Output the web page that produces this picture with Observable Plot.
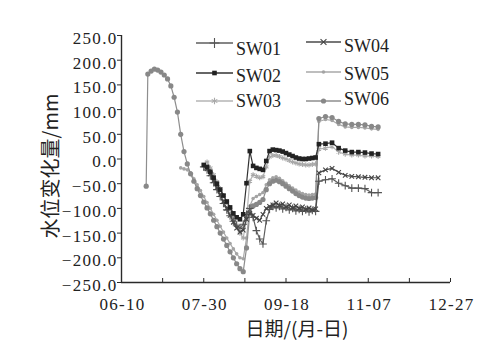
<!DOCTYPE html>
<html><head><meta charset="utf-8">
<script src="https://cdn.jsdelivr.net/npm/d3@7"></script>
<script src="https://cdn.jsdelivr.net/npm/@observablehq/plot@0.6"></script>
<style>
body{margin:0;background:#fff;}
#wrap{position:relative;width:500px;height:357px;overflow:hidden;}
#wrap svg{position:absolute;left:0;top:0;}
</style></head><body><div id="wrap"></div>
<script>
const dates = ["06-25","06-26","06-28","06-30","07-02","07-04","07-06","07-08","07-10","07-12",
"07-14","07-16","07-18","07-20","07-22","07-24","07-26","07-28","07-30","08-01",
"08-03","08-05","08-07","08-09","08-11","08-13","08-15","08-17","08-19","08-21",
"08-23","08-25","08-27","08-29","08-31","09-02","09-04","09-06","09-08","09-10",
"09-12","09-14","09-16","09-18","09-20","09-22","09-24","09-26","09-28","09-30",
"10-02","10-04","10-06","10-08","10-12","10-16","10-20","10-24","10-28","11-01",
"11-05","11-09","11-13"];
const N = null;
const sw01 = [N,N,N,N,N,N,N,N,N,N, N,N,N,N,N,N,N,N,-16,-22,
-34,-48,-62,-76,-90,-103,-115,-126,-135,-140,
-132,-112,-100,-118,-145,-162,-172,-125,-102,-96,
-99,-96,-101,-98,-103,-100,-105,-102,-106,-103,
-107,-104,-106,-45,-42,-40,-49,-54,-59,-59,
-60,-68,-68];
const sw02 = [N,N,N,N,N,N,N,N,N,N, N,N,N,N,N,N,N,N,-12,-16,
-26,-38,-50,-62,-74,-86,-98,-110,-118,-122,
-112,-49,16,-14,-18,-20,-22,-4,16,19,
18,17,15,12,9,6,3,1,0,0,
1,2,3,30,31,33,22,17,14,14,
13,11,10];
const sw03 = [N,N,N,N,N,N,N,N,N,N, N,N,N,N,N,N,N,N,N,-6,
-18,-32,-46,-60,-74,-88,-102,-118,-134,-150,
-160,-120,-45,-32,-35,-38,-36,-16,4,7,
7,5,2,0,-3,-6,-8,-10,-11,-12,
-12,-11,-10,20,22,25,14,10,8,8,
6,6,5];
const sw04 = [N,N,N,N,N,N,N,N,N,N, N,N,N,N,N,N,N,N,N,-20,
-30,-44,-58,-72,-86,-100,-114,-128,-140,-148,
-144,-122,-110,-114,-120,-124,-112,-100,-96,-93,
-89,-94,-91,-97,-93,-99,-95,-100,-97,-102,
-99,-103,-101,-28,-22,-19,-27,-33,-35,-36,
-37,-38,-38];
const sw05 = [N,N,N,N,N,N,N,N,N,N, N,-18,-20,-22,-28,-40,-52,-64,-76,-88,
-100,-112,-124,-136,-148,-160,-171,-182,-192,-200,
-202,-160,-95,-80,-76,-72,-68,-52,-42,-38,
-36,-39,-44,-49,-54,-59,-63,-67,-70,-72,
-73,-72,-71,76,80,78,70,65,64,64,
63,61,60];
const sw06 = [-55,172,178,182,180,176,170,162,148,125,
95,50,15,-10,-30,-45,-60,-74,-87,-99,
-111,-124,-137,-150,-162,-175,-188,-200,-212,-222,
-228,-180,-110,-95,-92,-88,-82,-62,-50,-45,
-43,-46,-50,-55,-60,-65,-70,-74,-77,-79,
-80,-79,-78,82,86,84,76,71,70,70,
69,66,65];
const seriesNames = ["SW01","SW02","SW03","SW04","SW05","SW06"];
const yTicks = [250,200,150,100,50,0,-50,-100,-150,-200,-250];
const xTickLabels = ["06-10","07-30","09-18","11-07","12-27"];
const xMinorTicks = ["07-05","08-24","10-13","12-02"];
const yTitle = "水位变化量/mm";
const xTitle = "日期/(月-日)";

const seriesValues = [sw01, sw02, sw03, sw04, sw05, sw06];
const parse = d3.utcParse("%Y-%m-%d");
const toDate = s => parse("2012-" + s);

const styles = {
  SW01: {stroke: "#5e5e5e", symbol: "plus", fill: "none", r: 2.6, dotStroke: "#555"},
  SW02: {stroke: "#333", symbol: "square", fill: "#222", r: 2.6, dotStroke: "none"},
  SW03: {stroke: "#b4b4b4", symbol: "asterisk", fill: "none", r: 2.4, dotStroke: "#a8a8a8"},
  SW04: {stroke: "#4a4a4a", symbol: "times", fill: "none", r: 2.2, dotStroke: "#444"},
  SW05: {stroke: "#a9a9a9", symbol: "circle", fill: "#a4a4a4", r: 1.8, dotStroke: "none"},
  SW06: {stroke: "#8e8e8e", symbol: "circle", fill: "#888", r: 2.6, dotStroke: "none"}
};

const rows = [];
seriesNames.forEach((name, k) => {
  seriesValues[k].forEach((v, i) => {
    if (v != null) rows.push({date: toDate(dates[i]), name, value: v});
  });
});

const fmtY = d => (d < 0 ? "\u2212" + Math.abs(d).toFixed(1) : d.toFixed(1));
const allX = xTickLabels.concat(xMinorTicks).map(toDate);

const marks = [];
["SW05","SW03","SW06","SW01","SW04","SW02"].forEach(name => {
  const s = styles[name];
  const data = rows.filter(r => r.name === name);
  marks.push(Plot.line(data, {x: "date", y: "value", stroke: s.stroke, strokeWidth: 1.2}));
  marks.push(Plot.dot(data, {x: "date", y: "value", symbol: () => s.symbol, r: s.r,
    fill: s.fill, stroke: s.dotStroke, strokeWidth: 1.1}));
});

const chart = Plot.plot({
  width: 500, height: 357,
  marginLeft: 121, marginRight: 50, marginTop: 35, marginBottom: 75,
  x: {type: "utc", domain: [toDate(xTickLabels[0]), toDate(xTickLabels[xTickLabels.length - 1])]},
  y: {domain: [-250, 250]},
  symbol: {type: "identity"},
  style: {fontFamily: "'Liberation Serif', serif", fontSize: "17px", letterSpacing: "1.3px", color: "#222", background: "transparent", overflow: "visible"},
  marks: [
    ...marks,
    Plot.ruleX([toDate(xTickLabels[0])], {stroke: "#2a2a2a", strokeWidth: 1.4}),
    Plot.ruleY([-250], {stroke: "#2a2a2a", strokeWidth: 1.4}),
    Plot.axisY({ticks: yTicks, tickSize: 4, tickFormat: () => "", label: null, stroke: "#2a2a2a"}),
    Plot.axisY({ticks: yTicks, tickSize: 0, tickPadding: 4, dy: 3, tickFormat: fmtY, label: null, fill: "#222"}),
    Plot.axisX({ticks: allX, tickSize: 4, dy: -4, tickFormat: () => "", label: null, stroke: "#2a2a2a"}),
    Plot.axisX({ticks: xTickLabels.map(toDate), tickSize: 0, tickPadding: 15, dx: 1, tickFormat: d3.utcFormat("%m-%d"), label: null, fill: "#222"})
  ]
});
const wrap = document.getElementById("wrap");
wrap.appendChild(chart);

const ov = d3.select(wrap).append("svg").attr("width", 500).attr("height", 357)
  .style("font-family", "'Liberation Serif', serif").style("pointer-events", "none");
ov.append("text").attr("x", 297).attr("y", 336).attr("text-anchor", "middle")
  .style("font-family", "'Noto Sans CJK SC', sans-serif").style("font-size", "19px").attr("fill", "#222")
  .text(xTitle);
ov.append("text").attr("transform", "translate(58,166) rotate(-90)").attr("text-anchor", "middle")
  .style("font-family", "'Noto Sans CJK SC', sans-serif").style("font-size", "20px").attr("fill", "#222")
  .text(yTitle);

const legendPos = [
  {x0: 196, x1: 233, tx: 236, ly: 43, ty: 55},
  {x0: 196, x1: 233, tx: 236, ly: 73, ty: 82},
  {x0: 196, x1: 233, tx: 236, ly: 101, ty: 107},
  {x0: 306, x1: 341, tx: 344, ly: 42, ty: 52},
  {x0: 306, x1: 341, tx: 344, ly: 72, ty: 80},
  {x0: 306, x1: 341, tx: 344, ly: 101, ty: 105}
];
const symMap = {plus: d3.symbolPlus, square: d3.symbolSquare, asterisk: d3.symbolAsterisk, times: d3.symbolTimes, circle: d3.symbolCircle};
seriesNames.forEach((name, i) => {
  const p = legendPos[i], s = styles[name];
  ov.append("line").attr("x1", p.x0).attr("x2", p.x1).attr("y1", p.ly).attr("y2", p.ly)
    .attr("stroke", s.stroke).attr("stroke-width", 1.3);
  const fillSym = s.symbol === "square" || s.symbol === "circle";
  ov.append("path").attr("transform", `translate(${(p.x0 + p.x1) / 2},${p.ly})`)
    .attr("d", d3.symbol(symMap[s.symbol], Math.PI * s.r * s.r * (fillSym ? 1 : 1.6))())
    .attr("fill", fillSym ? s.fill : "none").attr("stroke", fillSym ? "none" : s.dotStroke).attr("stroke-width", 1.1);
  ov.append("text").attr("x", p.tx).attr("y", p.ty).style("font-size", "18px").attr("fill", "#222").text(name);
});
</script></body></html>
